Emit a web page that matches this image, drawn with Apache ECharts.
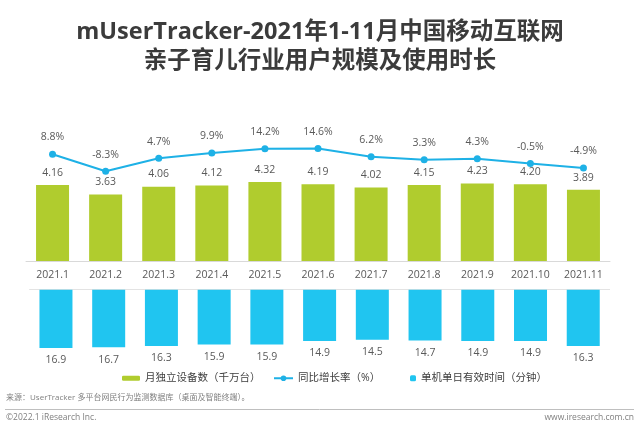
<!DOCTYPE html>
<html>
<head>
<meta charset="utf-8">
<script src="https://cdn.jsdelivr.net/npm/echarts@6/dist/echarts.min.js"></script>
<style>html,body{margin:0;padding:0;background:#fff;}#main{width:640px;height:430px;}</style>
</head>
<body>
<div id="main"></div>
<script>
var categories = ['2021.1','2021.2','2021.3','2021.4','2021.5','2021.6','2021.7','2021.8','2021.9','2021.10','2021.11'];
var devices = [4.16, 3.63, 4.06, 4.12, 4.32, 4.19, 4.02, 4.15, 4.23, 4.20, 3.89];
var growth = [8.8, -8.3, 4.7, 9.9, 14.2, 14.6, 6.2, 3.3, 4.3, -0.5, -4.9];
var minutes = [16.9, 16.7, 16.3, 15.9, 15.9, 14.9, 14.5, 14.7, 14.9, 14.9, 16.3];

var FONT = '"Open Sans", "Noto Sans CJK SC", sans-serif';
var LBL = '#595959';
var chart = echarts.init(document.getElementById('main'), null, {renderer: 'canvas'});
chart.setOption({
  backgroundColor: '#fff',
  animation: false,
  textStyle: {fontFamily: FONT},
  title: {
    text: 'mUserTracker-2021年1-11月中国移动互联网\n亲子育儿行业用户规模及使用时长',
    left: 'center',
    top: 13,
    textStyle: {fontSize: 23.5, fontWeight: 'bold', color: '#3b3b3b', lineHeight: 29, fontFamily: FONT}
  },
  legend: [
    {data: ['月独立设备数（千万台）'], left: 122, top: 373, padding: 0, itemWidth: 18, itemHeight: 5,
     textStyle: {fontSize: 10.5, color: '#404040', fontFamily: FONT}},
    {data: ['同比增长率（%）'], left: 273, top: 373, padding: 0, itemWidth: 19, itemHeight: 7,
     textStyle: {fontSize: 10.5, color: '#404040', fontFamily: FONT}},
    {data: ['单机单日有效时间（分钟）'], left: 410, top: 373, padding: 0, itemWidth: 6, itemHeight: 6,
     textStyle: {fontSize: 10.5, color: '#404040', fontFamily: FONT}}
  ],
  grid: [
    {left: 26, width: 584, top: 100, height: 161},
    {left: 29.6, width: 580, top: 289.7, height: 60}
  ],
  xAxis: [
    {type: 'category', gridIndex: 0, data: categories,
     axisLine: {lineStyle: {color: '#d9d9d9'}}, axisTick: {show: false},
     axisLabel: {fontSize: 10.5, color: LBL, margin: 9, interval: 0, fontFamily: FONT}},
    {type: 'category', gridIndex: 1, data: categories, position: 'top',
     axisLine: {lineStyle: {color: '#e3e3e3'}}, axisTick: {show: false}, axisLabel: {show: false}}
  ],
  yAxis: [
    {type: 'value', gridIndex: 0, min: 0, max: 8.8, show: false, splitLine: {show: false}},
    {type: 'value', gridIndex: 0, min: -98, max: 63, show: false, splitLine: {show: false}},
    {type: 'value', gridIndex: 1, min: 0, max: 17.39, inverse: true, show: false, splitLine: {show: false}}
  ],
  series: [
    {name: '月独立设备数（千万台）', type: 'bar', xAxisIndex: 0, yAxisIndex: 0, data: devices,
     barWidth: 33, itemStyle: {color: '#b0cc2e'},
     label: {show: true, position: 'top', distance: 7, fontSize: 10.5, color: LBL, fontFamily: FONT,
       formatter: function (p) { return p.value.toFixed(2); }}},
    {name: '同比增长率（%）', type: 'line', xAxisIndex: 0, yAxisIndex: 1, data: growth,
     symbol: 'circle', symbolSize: 7, lineStyle: {color: '#1eb1e6', width: 2}, itemStyle: {color: '#1eb1e6'},
     z: 5,
     label: {show: true, position: 'top', distance: 8, fontSize: 10.5, color: LBL, fontFamily: FONT,
       formatter: function (p) { return p.value.toFixed(1) + '%'; }}},
    {name: '单机单日有效时间（分钟）', type: 'bar', xAxisIndex: 1, yAxisIndex: 2, data: minutes,
     barWidth: 33, itemStyle: {color: '#20c5f0'},
     label: {show: true, position: 'bottom', distance: 7, fontSize: 10.5, color: LBL, fontFamily: FONT,
       formatter: function (p) { return p.value.toFixed(1); }}}
  ],
  graphic: [
    {type: 'text', left: 6, top: 394, style: {text: '来源：UserTracker 多平台网民行为监测数据库（桌面及智能终端）。', fontSize: 8, fill: '#7f7f7f', fontFamily: FONT}},
    {type: 'line', shape: {x1: 5, y1: 409.5, x2: 634, y2: 409.5}, style: {stroke: '#bfbfbf', lineWidth: 1}},
    {type: 'text', left: 6, top: 413, style: {text: '©2022.1 iResearch Inc.', fontSize: 8.5, fill: '#7f7f7f', fontFamily: FONT}},
    {type: 'text', right: 6, top: 413, style: {text: 'www.iresearch.com.cn', fontSize: 8.5, fill: '#7f7f7f', fontFamily: FONT}}
  ]
});
</script>
</body>
</html>
